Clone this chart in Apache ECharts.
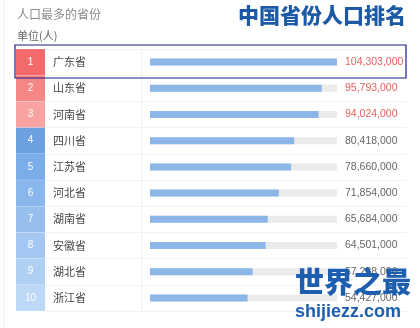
<!DOCTYPE html>
<html><head><meta charset="utf-8">
<script src="https://cdn.jsdelivr.net/npm/echarts@6/dist/echarts.min.js"></script>
<style>html,body{margin:0;padding:0;background:#fff}#c{width:420px;height:328px}</style>
</head><body><div id="c"></div>
<script>
var provinces = ['广东省','山东省','河南省','四川省','江苏省','河北省','湖南省','安徽省','湖北省','浙江省'];
var population = [104303000,95793000,94024000,80418000,78660000,71854000,65684000,64501000,57238000,54427000];
var rankColors = ['#f26a6a','#f58686','#f8a2a2','#6da0e1','#7badea','#89b6ec','#96bfee','#a4c8f1','#b0d0f3','#bdd8f6'];
var maxValue = 104303000;

function fmt(v){ return v.toString().replace(/\B(?=(\d{3})+(?!\d))/g, ','); }

var rich = { n: { fontSize: 11, color: '#444', padding: [0,0,0,8], fontFamily: 'Noto Sans CJK SC' } };
rankColors.forEach(function(c, i){
  rich['r' + i] = { width: 29, height: 26, lineHeight: 26, align: 'center', backgroundColor: c,
    color: '#fff', fontSize: 10, fontFamily: 'Liberation Sans' };
});

var chart = echarts.init(document.getElementById('c'));
chart.setOption({
  animation: false,
  backgroundColor: '#fff',
  graphic: [
    { type: 'line', shape: { x1: 4, y1: 0, x2: 4, y2: 328 }, style: { stroke: '#eeeeee', lineWidth: 1 } },
    { type: 'line', shape: { x1: 142, y1: 49, x2: 142, y2: 311 }, style: { stroke: '#f0f0f0', lineWidth: 1 } },
    { type: 'text', left: 17, top: 8, style: { text: '人口最多的省份', fontSize: 12, fill: '#8a8a8a', fontFamily: 'Noto Sans CJK SC' } },
    { type: 'text', left: 17, top: 30, style: { text: '单位(人)', fontSize: 11, fill: '#666', fontFamily: 'Noto Sans CJK SC' } },
    { type: 'text', left: 238, top: 5, style: { text: '中国省份人口排名', fontSize: 21, fontWeight: 900, fill: '#1c5aa6', fontFamily: 'Noto Sans CJK SC' } },
    { type: 'rect', shape: { x: 15, y: 45, width: 391, height: 33 }, style: { fill: 'none', stroke: '#1c1c8c', lineWidth: 1.2 }, z: 100 },
    { type: 'text', left: 295, top: 267, z: 100, style: { text: '世界之最', fontSize: 29, fontWeight: 900, fill: '#1d5fae', fontFamily: 'Noto Sans CJK SC' } },
    { type: 'text', left: 295, top: 303, z: 100, style: { text: 'shijiezz.com', fontSize: 18, fontWeight: 'bold', fill: '#1d5fae', fontFamily: 'Liberation Sans' } }
  ],
  grid: [
    { left: 150, right: 83, top: 49, bottom: 17 },
    { left: 45, right: 14, top: 49, bottom: 17 }
  ],
  xAxis: [
    { type: 'value', gridIndex: 0, min: 0, max: maxValue, show: false },
    { type: 'value', gridIndex: 1, min: 0, max: 1, show: false }
  ],
  yAxis: [
    { type: 'category', gridIndex: 0, data: provinces, inverse: true,
      axisLine: { show: false }, axisTick: { show: false },
      axisLabel: { align: 'left', margin: 134, rich: rich,
        formatter: function(v, i){ return '{r' + i + '|' + (i + 1) + '}{n|' + v + '}'; } } },
    { type: 'category', gridIndex: 0, data: population.map(fmt), inverse: true, position: 'right',
      axisLine: { show: false }, axisTick: { show: false },
      axisLabel: { align: 'left', margin: 8, fontSize: 10.5, fontFamily: 'Liberation Sans',
        color: function(v, i){ return i < 3 ? '#e8605f' : '#666'; } } },
    { type: 'category', gridIndex: 1, data: provinces, inverse: true,
      axisLine: { show: false }, axisTick: { show: false }, axisLabel: { show: false },
      splitLine: { show: true, lineStyle: { color: '#f2f2f2' } } }
  ],
  series: [{
    type: 'bar', xAxisIndex: 0, yAxisIndex: 0, data: population, barWidth: 7,
    itemStyle: { color: '#8db6e8' },
    showBackground: true, backgroundStyle: { color: '#ebebeb' }
  }]
});
</script></body></html>
